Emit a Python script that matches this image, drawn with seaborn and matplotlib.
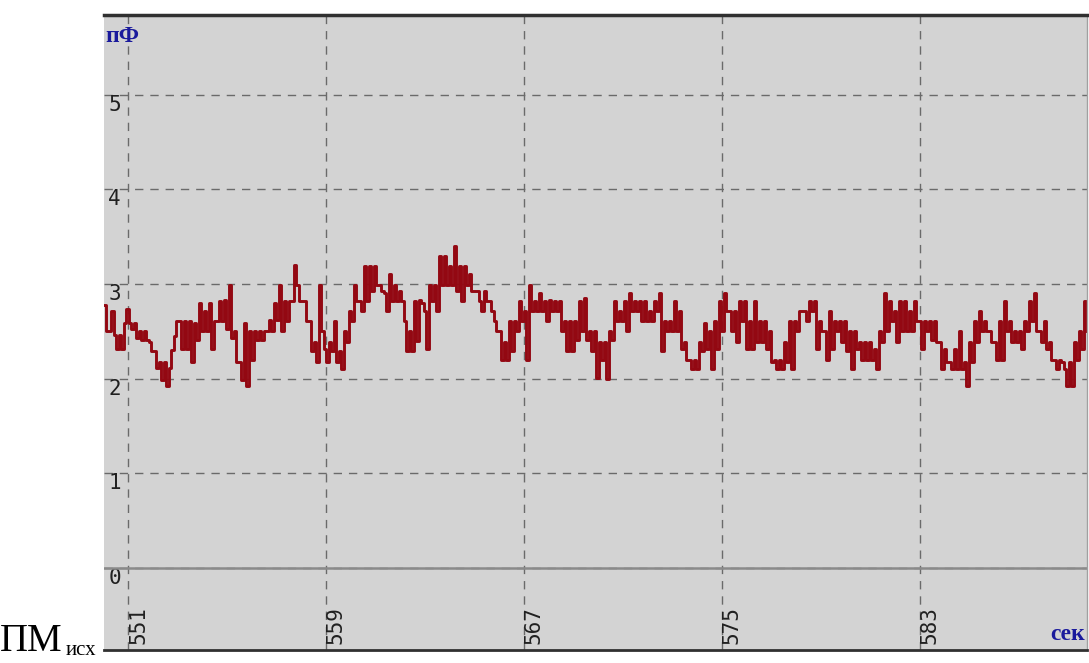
import numpy as np
import pandas as pd
import matplotlib
matplotlib.use("Agg")
import matplotlib.pyplot as plt
import seaborn as sns

# ----- data (upper / lower level of each 0.2 s slot) -----
t_start = 550.03
half_step = 0.101

pf_hi = [2.78, 2.50, 2.46, 2.46, 2.59, 2.59, 2.59, 2.50, 2.50, 2.39,
         2.29, 2.18, 2.18, 2.11, 2.45, 2.61, 2.61, 2.61, 2.59, 2.80,
         2.71, 2.80, 2.61, 2.82, 2.83, 2.99, 2.50, 2.18, 2.59, 2.50,
         2.50, 2.50, 2.50, 2.62, 2.80, 2.99, 2.82, 2.82, 3.20, 2.82,
         2.82, 2.61, 2.39, 2.99, 2.31, 2.39, 2.61, 2.29, 2.50, 2.71,
         2.99, 2.82, 3.19, 3.19, 3.19, 2.99, 2.90, 3.10, 2.99, 2.92,
         2.61, 2.50, 2.82, 2.83, 2.71, 2.99, 2.99, 3.29, 3.29, 3.19,
         3.40, 3.19, 3.19, 3.10, 2.92, 2.82, 2.92, 2.82, 2.61, 2.50,
         2.39, 2.61, 2.61, 2.82, 2.71, 2.99, 2.82, 2.90, 2.82, 2.83,
         2.82, 2.82, 2.61, 2.61, 2.61, 2.82, 2.85, 2.50, 2.50, 2.39,
         2.39, 2.50, 2.82, 2.71, 2.82, 2.90, 2.82, 2.82, 2.82, 2.71,
         2.82, 2.90, 2.61, 2.61, 2.82, 2.71, 2.39, 2.20, 2.20, 2.39,
         2.59, 2.50, 2.61, 2.82, 2.90, 2.71, 2.71, 2.82, 2.82, 2.61,
         2.82, 2.61, 2.61, 2.50, 2.20, 2.20, 2.39, 2.61, 2.61, 2.71,
         2.71, 2.82, 2.82, 2.61, 2.50, 2.71, 2.61, 2.61, 2.61, 2.50,
         2.50, 2.39, 2.39, 2.39, 2.31, 2.50, 2.90, 2.82, 2.71, 2.82,
         2.82, 2.71, 2.82, 2.61, 2.61, 2.61, 2.61, 2.39, 2.31, 2.18,
         2.31, 2.50, 2.18, 2.39, 2.61, 2.71, 2.61, 2.50, 2.39, 2.61,
         2.82, 2.61, 2.50, 2.50, 2.61, 2.82, 2.90, 2.50, 2.61, 2.39,
         2.20, 2.20, 2.10, 2.18, 2.39, 2.50, 2.82]
pf_lo = [2.50, 2.71, 2.31, 2.31, 2.73, 2.52, 2.43, 2.41, 2.41, 2.29,
         2.11, 1.99, 1.92, 2.30, 2.61, 2.31, 2.31, 2.18, 2.41, 2.50,
         2.50, 2.31, 2.61, 2.61, 2.52, 2.43, 2.18, 1.99, 1.92, 2.20,
         2.41, 2.41, 2.50, 2.50, 2.62, 2.50, 2.61, 2.82, 2.99, 2.82,
         2.61, 2.29, 2.18, 2.50, 2.18, 2.29, 2.18, 2.10, 2.39, 2.61,
         2.82, 2.71, 2.82, 2.92, 2.99, 2.92, 2.71, 2.82, 2.82, 2.82,
         2.29, 2.29, 2.40, 2.80, 2.31, 2.82, 2.71, 2.99, 2.99, 2.99,
         2.92, 2.82, 2.99, 2.92, 2.92, 2.71, 2.82, 2.71, 2.50, 2.20,
         2.20, 2.29, 2.50, 2.61, 2.20, 2.71, 2.71, 2.71, 2.61, 2.71,
         2.71, 2.50, 2.29, 2.29, 2.41, 2.50, 2.41, 2.29, 2.01, 2.20,
         2.00, 2.41, 2.61, 2.61, 2.50, 2.71, 2.71, 2.61, 2.61, 2.61,
         2.71, 2.29, 2.50, 2.50, 2.50, 2.31, 2.20, 2.10, 2.10, 2.29,
         2.31, 2.10, 2.31, 2.50, 2.71, 2.50, 2.39, 2.61, 2.31, 2.31,
         2.39, 2.39, 2.31, 2.18, 2.10, 2.10, 2.18, 2.10, 2.50, 2.71,
         2.61, 2.71, 2.31, 2.50, 2.20, 2.31, 2.50, 2.39, 2.29, 2.10,
         2.31, 2.20, 2.20, 2.20, 2.10, 2.39, 2.50, 2.61, 2.39, 2.50,
         2.50, 2.50, 2.61, 2.31, 2.50, 2.41, 2.39, 2.10, 2.18, 2.10,
         2.10, 2.10, 1.92, 2.18, 2.39, 2.50, 2.50, 2.39, 2.20, 2.20,
         2.50, 2.39, 2.39, 2.31, 2.50, 2.61, 2.50, 2.39, 2.31, 2.20,
         2.10, 2.18, 1.92, 1.92, 2.20, 2.31, 2.50]

y_ticks = [0, 1, 2, 3, 4, 5]
x_ticks = [551, 559, 567, 575, 583]

# hi/lo alternate every half slot -> dense "flicker" band like the recorder
pf = np.ravel(np.column_stack([pf_hi, pf_lo]))
df = pd.DataFrame({"t": t_start + half_step * np.arange(len(pf)), "pf": pf})

fig = plt.figure(figsize=(10.89, 6.63), dpi=100)
ax = fig.add_axes([104 / 1089, 1 - 650 / 663, 983 / 1089, 635 / 663])
ax.set_facecolor("#d3d3d3")

sns.lineplot(data=df, x="t", y="pf", ax=ax, estimator=None, color="#930812",
             linewidth=2.1, drawstyle="steps-post")

ax.set_xlim(t_start, 589.75)
ax.set_ylim(-0.866, 5.84)
ax.axhline(0, color="#8a8a8a", linewidth=1.8, zorder=1)

ax.set_yticks(y_ticks)
ax.set_yticklabels([str(v) for v in y_ticks])
ax.set_xticks(x_ticks)
ax.set_xticklabels([str(v) for v in x_ticks])
ax.grid(True, linestyle=(0, (6, 5)), color="#6a6a6a", linewidth=1)
ax.set_axisbelow(True)

ax.tick_params(axis="y", length=0, pad=-3, labelsize=15, labelcolor="#202020")
ax.tick_params(axis="x", length=0, pad=-4, labelsize=15, labelcolor="#202020",
               labelrotation=90)
for lbl in ax.get_yticklabels():
    lbl.set_family("DejaVu Sans Mono")
    lbl.set_ha("left")
    lbl.set_va("top")
for lbl in ax.get_xticklabels():
    lbl.set_family("DejaVu Sans Mono")
    lbl.set_ha("left")
    lbl.set_va("bottom")

ax.set_xlabel("")
ax.set_ylabel("")

ax.spines["left"].set_visible(False)
ax.spines["right"].set_color("#a0a0a0")
ax.spines["right"].set_linewidth(1)
ax.spines["top"].set_color("#303030")
ax.spines["top"].set_linewidth(2.5)
ax.spines["bottom"].set_color("#303030")
ax.spines["bottom"].set_linewidth(2)

# units in the corners
ax.text(0.001, 0.983, "пФ", transform=ax.transAxes, ha="left", va="top",
        color="#1a1a9c", fontsize=17, fontweight="bold", family="Liberation Serif")
ax.text(0.998, 0.008, "сек", transform=ax.transAxes, ha="right", va="bottom",
        color="#1a1a9c", fontsize=17, fontweight="bold", family="Liberation Serif")

# caption left of the chart
fig.text(0.0, 0.018, "ПМ", ha="left", va="baseline", fontsize=28,
         family="Liberation Serif", color="black")
fig.text(66 / 1089, 0.012, "исх", ha="left", va="baseline", fontsize=15,
         family="Liberation Serif", color="black")

plt.savefig("out.png", dpi=100)
